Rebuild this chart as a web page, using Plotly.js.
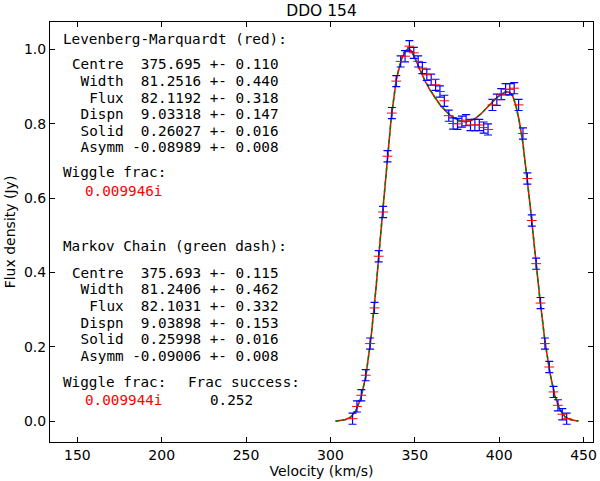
<!DOCTYPE html>
<html>
<head>
<meta charset="utf-8">
<script src="https://cdn.plot.ly/plotly-3.0.1.min.js"></script>
<style>html,body{margin:0;padding:0;background:#fff;}#chart{width:600px;height:481px;}</style>
</head>
<body>
<div id="chart"></div>
<script>
// Observed channels (km/s) and flux (Jy)
var velocity = [313.1,315.7,318.3,320.9,323.5,326.1,328.6,331.2,333.8,336.4,
  339.0,341.6,344.2,346.8,349.4,352.0,354.5,357.1,359.7,362.3,
  364.9,367.5,370.1,372.7,375.3,377.9,380.4,383.0,385.6,388.2,
  390.8,393.4,396.0,398.6,401.2,403.8,406.3,408.9,411.5,414.1,
  416.7,419.3,421.9,424.5,427.1,429.7,432.2,434.8,437.4,440.0];
var flux = [0.007,0.040,0.070,0.124,0.209,0.305,0.444,0.563,0.713,0.829,
  0.915,0.968,0.982,1.009,0.991,0.968,0.950,0.932,0.919,0.905,
  0.887,0.862,0.822,0.801,0.800,0.806,0.810,0.797,0.797,0.797,
  0.790,0.785,0.851,0.865,0.880,0.893,0.893,0.896,0.851,0.774,
  0.653,0.540,0.424,0.318,0.209,0.146,0.079,0.043,0.019,0.007];
var fluxErr = [0.015,0.015,0.015,0.015,0.015,0.015,0.015,0.015,0.015,0.015,
  0.015,0.015,0.015,0.015,0.015,0.015,0.015,0.015,0.015,0.015,
  0.015,0.015,0.015,0.015,0.015,0.015,0.015,0.015,0.015,0.015,
  0.015,0.015,0.015,0.015,0.015,0.015,0.015,0.015,0.015,0.015,
  0.015,0.015,0.015,0.015,0.015,0.015,0.015,0.015,0.015,0.015];

// Fitted model curves
var modelVel = [303,306,309,312,315,318,321,324,327,330,333,336,339,342,344,346,348,350,353,356,
  359,362,365,368,371,374,377,380,383,386,389,392,395,398,401,404,406,408,410,412,
  414,416,418,420,422,424,427,430,433,436,439,442,445,447];
var lmFlux = [0.000,0.002,0.005,0.011,0.028,0.062,0.122,0.222,0.358,0.515,0.665,0.815,0.918,0.972,0.993,1.003,0.996,0.978,0.946,0.916,
  0.891,0.870,0.851,0.836,0.823,0.814,0.808,0.806,0.808,0.815,0.826,0.840,0.855,0.868,0.879,0.886,0.885,0.875,0.848,0.805,
  0.750,0.680,0.595,0.508,0.420,0.335,0.220,0.132,0.068,0.031,0.012,0.005,0.002,0.001];
var mcFlux = [0.000,0.002,0.005,0.011,0.028,0.062,0.122,0.222,0.358,0.515,0.665,0.816,0.920,0.975,0.996,1.005,0.997,0.978,0.946,0.916,
  0.891,0.870,0.851,0.836,0.823,0.814,0.808,0.806,0.808,0.815,0.826,0.840,0.855,0.868,0.879,0.887,0.886,0.876,0.848,0.805,
  0.750,0.680,0.595,0.508,0.420,0.335,0.220,0.132,0.068,0.031,0.012,0.005,0.002,0.001];

var xTicks = [150,200,250,300,350,400,450];
var yTicks = [0.0,0.2,0.4,0.6,0.8,1.0];

var lmLines = ["Centre  375.695 +- 0.110"," Width  81.2516 +- 0.440","  Flux  82.1192 +- 0.318",
  " Dispn  9.03318 +- 0.147"," Solid  0.26027 +- 0.016"," Asymm -0.08989 +- 0.008"];
var mcLines = ["Centre  375.693 +- 0.115"," Width  81.2406 +- 0.462","  Flux  82.1031 +- 0.332",
  " Dispn  9.03898 +- 0.153"," Solid  0.25998 +- 0.016"," Asymm -0.09006 +- 0.008"];

var L = 50, R = 592.7, T = 22, B = 441.7;
function px(x){ return (x - L) / (R - L); }
function py(y){ return (B - y) / (B - T); }
function nb(s){ return s.replace(/ /g, '\u00A0'); }
var mono = {family: 'DejaVu Sans Mono', size: 14.3, color: 'black'};
var monoRed = {family: 'DejaVu Sans Mono', size: 14.3, color: '#ff0000'};
var ann = [];
function addText(txt, x, y, font){
  ann.push({text: nb(txt), xref: 'paper', yref: 'paper', x: px(x), y: py(y),
    xanchor: 'left', yanchor: 'middle', showarrow: false, font: font});
}
addText("Levenberg-Marquardt (red):", 61, 38.5, mono);
var lmY = [64.3, 80.9, 97.5, 114.1, 130.7, 147.3];
lmLines.forEach(function(s, i){ addText(s, 70, lmY[i], mono); });
addText("Wiggle frac:", 61, 172.3, mono);
addText("0.009946i", 83.3, 191, monoRed);
addText("Markov Chain (green dash):", 61, 246, mono);
var mcY = [272.7, 289.3, 305.9, 322.5, 339.1, 355.7];
mcLines.forEach(function(s, i){ addText(s, 70, mcY[i], mono); });
addText("Wiggle frac:", 61, 381.7, mono);
addText("Frac success:", 186, 381.7, mono);
addText("0.009944i", 83.3, 399.5, monoRed);
addText("0.252", 208.3, 399.5, mono);

var traces = [
  {x: modelVel, y: lmFlux, type: 'scatter', mode: 'lines', line: {color: '#ff0000', width: 1.5}, hoverinfo: 'skip'},
  {x: modelVel, y: mcFlux, type: 'scatter', mode: 'lines', line: {color: '#008000', width: 1.5, dash: '4px,3px'}, hoverinfo: 'skip'},
  {x: velocity, y: flux, type: 'scatter', mode: 'markers',
   marker: {symbol: 'line-ew', size: 7, color: '#ff0000', line: {color: '#ff0000', width: 1}},
   error_y: {type: 'data', array: fluxErr, visible: true, color: '#0000ff', thickness: 1.2, width: 4}}
];

var axisFont = {family: 'DejaVu Sans', size: 14, color: 'black'};
var layout = {
  width: 600, height: 481,
  margin: {l: L, r: 600 - R, t: T, b: 481 - B, pad: 0},
  paper_bgcolor: 'white', plot_bgcolor: 'white',
  showlegend: false,
  title: {text: 'DDO 154', font: {family: 'DejaVu Sans', size: 15.5, color: 'black'},
    x: 0.5, xref: 'paper', y: 1 - 11/481, yanchor: 'middle'},
  xaxis: {range: [133.8, 455.6], tickvals: xTicks, ticktext: xTicks.map(String),
    ticks: 'inside', ticklen: 5, tickwidth: 1, tickcolor: 'black',
    showline: true, linecolor: 'black', linewidth: 1, mirror: 'allticks',
    showgrid: false, zeroline: false, tickfont: axisFont,
    title: {text: 'Velocity (km/s)', font: {family: 'DejaVu Sans', size: 14, color: 'black'}, standoff: 3}},
  yaxis: {range: [-0.0557, 1.074], tickvals: yTicks, ticktext: yTicks.map(function(v){return v.toFixed(1);}),
    ticks: 'inside', ticklen: 5, tickwidth: 1, tickcolor: 'black',
    showline: true, linecolor: 'black', linewidth: 1, mirror: 'allticks',
    showgrid: false, zeroline: false, tickfont: axisFont,
    title: {text: 'Flux density (Jy)', font: {family: 'DejaVu Sans', size: 14, color: 'black'}, standoff: 5}},
  annotations: ann
};
Plotly.newPlot('chart', traces, layout, {staticPlot: true, displayModeBar: false});
</script>
</body>
</html>
